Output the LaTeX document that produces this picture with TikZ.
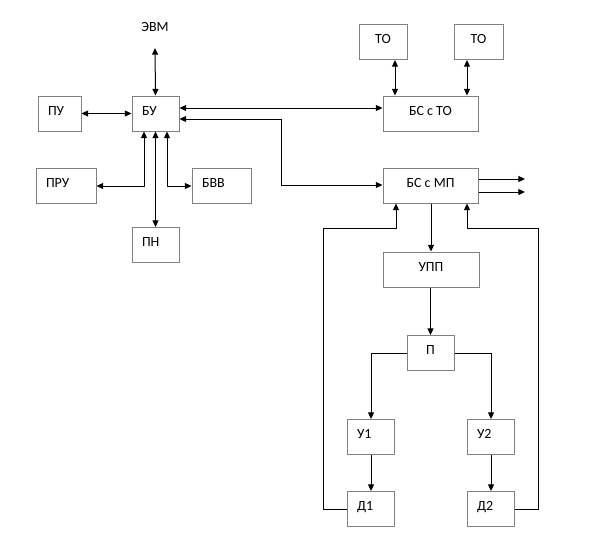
\documentclass[tikz,border=0pt]{standalone}
\usepackage{fontspec}
\setmainfont{Carlito}
\usetikzlibrary{arrows.meta}
\begin{document}
\begin{tikzpicture}[x=0.75pt,y=-0.75pt,
  box/.style={draw=black!50, line width=0.75pt, inner ysep=0pt, minimum height=26.25pt,
    text height=6.75pt, text depth=4.5pt, font=\fontsize{10.5}{12}\selectfont},
  cbox/.style={box, inner xsep=0pt},
  lbox/.style={box, inner xsep=7.5pt, align=left},
  conn/.style={line width=0.75pt, black, >={Triangle[length=5pt,width=4.5pt]}},
  lbl/.style={font=\fontsize{10.5}{12}\selectfont, inner sep=0pt}]
\useasboundingbox (0,0) rectangle (600,540);
% left group
\node[lbox, text width=17.25pt] (pu) at (59.5,113.5) {ПУ};
\node[lbox, text width=20.25pt] (bu) at (155.5,113.5) {БУ};
\node[lbox, text width=30pt] (pru) at (66,185.5) {ПРУ};
\node[lbox, text width=29.25pt] (bvv) at (221.5,185.5) {БВВ};
\node[lbox, text width=20.25pt] (pn) at (155.5,245) {ПН};
\node[lbl] (evm) at (155,27) {ЭВМ};
\coordinate (evmend) at (155,48);
% top right
\node[cbox, minimum width=36pt] (to1) at (383,42) {ТО};
\node[cbox, minimum width=36.75pt] (to2) at (478.5,42) {ТО};
\node[cbox, minimum width=71.25pt] (bsto) at (430.5,113.5) {БС с ТО};
\node[cbox, minimum width=71.25pt] (bsmp) at (430.5,185.5) {БС с МП};
\node[cbox, minimum width=72pt] (upp) at (431,269.5) {УПП};
\node[cbox, minimum width=35.25pt] (p) at (430.5,353) {П};
\node[lbox, text width=20.25pt] (u1) at (370.5,437) {У1};
\node[lbox, text width=20.25pt] (u2) at (490.5,437) {У2};
\node[lbox, text width=20.25pt] (d1) at (370.5,509) {Д1};
\node[lbox, text width=20.25pt] (d2) at (490.5,509) {Д2};
\coordinate (out1) at (525,179);
\coordinate (out2) at (525,192);
% connectors
\draw[conn,<->] (evmend) -- (bu.north);
\draw[conn,<->] (pu.east) -- (pu.east -| bu.west);
\draw[conn,<->] (bu.south -| 144,0) |- (pru.east |- 0,186);
\draw[conn,<->] (bu.south) -- (pn.north);
\draw[conn,<->] (bu.south -| 167,0) |- (bvv.west |- 0,186);
\draw[conn,<->] (bu.east |- 0,108) -- (bsto.west |- 0,108);
\draw[conn,<->] (bu.east |- 0,119) -- (281,119) |- (bsmp.west |- 0,185);
\draw[conn,<->] (to1.south -| 395,0) -- (bsto.north -| 395,0);
\draw[conn,<->] (to2.south -| 467,0) -- (bsto.north -| 467,0);
\draw[conn,->] (bsmp.east |- out1) -- (out1);
\draw[conn,->] (bsmp.east |- out2) -- (out2);
\draw[conn,->] (bsmp.south -| upp.north) -- (upp.north);
\draw[conn,->] (upp.south -| p.north) -- (p.north);
\draw[conn,->] (p.west) -| (u1.north -| 371,0);
\draw[conn,->] (p.east) -| (u2.north -| 491,0);
\draw[conn,->] (u1.south -| 371,0) -- (d1.north -| 371,0);
\draw[conn,->] (u2.south -| 491,0) -- (d2.north -| 491,0);
\draw[conn,->] (d1.west) -- (323,509) -- (323,228) -| (bsmp.south -| 396,0);
\draw[conn,->] (d2.east) -- (538,509) -- (538,228) -| (bsmp.south -| 467,0);
\end{tikzpicture}
\end{document}
